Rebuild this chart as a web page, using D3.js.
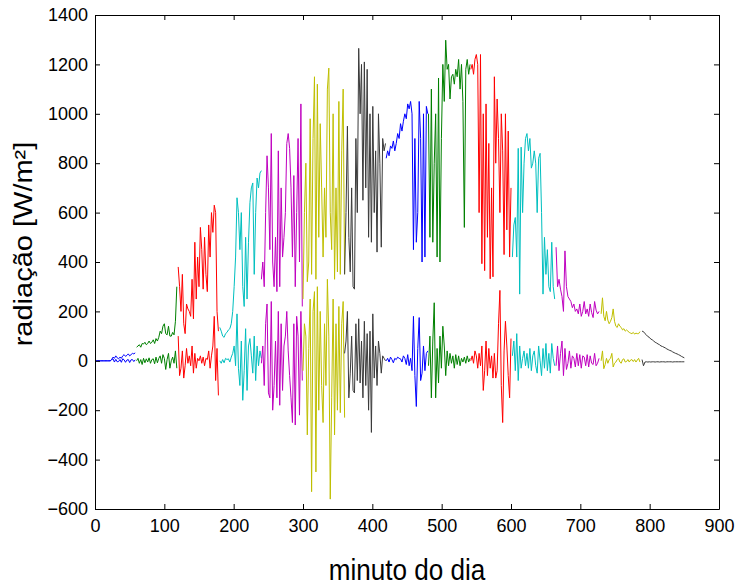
<!DOCTYPE html>
<meta charset="utf-8">
<head>
    <title>radiacao</title>
    <script src="https://d3js.org/d3.v7.min.js"></script>
</head>
<style>
    body { margin: 0; background: #fff; }
    .serie { fill: none; stroke-width: 1px; stroke-linejoin: round; }
    .eixo text { font-family: "Liberation Sans", Arial, sans-serif; font-size: 18px; fill: #000; }
    .rotulo { font-family: "Liberation Sans", Arial, sans-serif; font-size: 29px; fill: #000; }
</style>
<body>
<script>
// minuto inicial / final de cada trecho (30 amostras por trecho)
var inicio = [0, 60, 120, 180, 240, 300, 360, 420, 481, 542, 602, 665, 730, 789];
var fim    = [58, 118, 178, 240, 299, 360, 419, 480, 541, 600, 663, 727, 786, 850];
var cores = ["#0000ff", "#008000", "#ff0000", "#00bfbf", "#bf00bf", "#bfbf00", "#3a3a3a"];

// radiacao medida em cada trecho [W/m2]
var radiacao = [
    [0,0,0,0,0,0,0,0,0,0,0,0,5,15,10,20,12,8,15,10,20,25,18,22,28,20,25,30,28,32],
    [55,60,65,55,70,68,75,65,70,80,70,75,85,70,90,80,95,120,110,140,150,110,105,140,100,100,115,105,160,300],
    [380,300,200,350,150,110,230,210,200,180,330,170,480,250,420,300,540,450,290,500,350,280,550,420,600,520,630,600,200,120],
    [135,120,100,95,110,115,125,130,150,200,300,420,660,600,450,600,300,220,500,250,480,640,700,720,350,600,740,700,760,770],
    [330,400,300,600,830,700,450,920,400,300,500,280,850,300,700,420,500,600,880,920,860,700,420,750,300,600,900,400,1040,220],
    [250,600,800,320,400,980,350,900,1150,330,1120,500,960,700,420,700,500,1100,1185,600,450,1000,330,700,360,1050,350,850,1100,350],
    [350,600,950,500,360,700,300,290,900,600,1265,1000,1200,650,1210,700,1180,500,1000,480,1030,600,850,440,1000,800,460,900,850,880],
    [820,850,830,870,860,890,850,880,920,900,960,930,970,1000,980,1040,1020,1050,1000,450,900,480,600,1050,900,400,1000,420,1030,1000],
    [1000,500,1100,480,800,1000,420,1145,400,900,1200,1050,1298,1180,1200,1060,1150,1160,1120,1180,1150,1220,1100,1200,1050,540,1180,1220,1160,1200],
    [1180,1200,1160,1220,1240,1200,600,1240,393,1000,365,1040,500,880,332,700,340,1150,800,1060,900,600,1000,850,430,1000,530,930,420,700],
    [420,550,580,420,860,270,865,600,800,900,920,850,900,780,800,850,800,600,820,840,600,270,500,350,450,300,280,480,300,250],
    [460,300,330,290,260,200,445,300,260,250,240,215,230,200,210,190,230,180,200,240,190,210,180,230,195,175,240,205,190,200],
    [190,255,180,162,200,165,150,160,175,210,160,140,135,150,140,135,125,130,120,125,120,115,112,110,115,108,112,110,110,118],
    [120,118,110,105,98,95,88,85,80,75,72,68,65,60,58,55,52,48,45,42,40,36,33,30,28,25,22,18,15,12]
];

// variacao da radiacao em cada trecho [W/m2]
var variacao = [
    [0,0,0,0,0,0,0,0,0,0,0,0,5,8,-5,6,-4,-3,5,-6,8,4,-6,3,5,-7,4,5,-3,4],
    [0,10,-10,5,-15,10,-8,8,-5,12,-10,5,8,-12,15,-8,10,20,-10,25,10,-35,5,30,-30,0,15,-10,40,-30],
    [100,-60,-30,40,-70,-20,50,-10,20,-20,60,-50,30,-30,10,0,20,-10,15,-20,10,5,40,-30,20,60,180,-80,50,-140],
    [0,-10,5,-8,10,5,8,-5,15,30,60,-20,190,-30,-100,80,-160,-40,130,-120,60,90,20,-50,100,-80,60,-20,40,10],
    [-10,60,-100,150,230,-130,-150,240,-200,-100,80,-150,200,-180,150,-120,60,100,200,40,-60,-150,-250,150,-260,180,100,-220,200,-80],
    [-40,150,100,-300,50,250,-530,200,280,-450,300,-200,200,-100,-250,150,-100,330,100,-560,-150,250,-300,150,-200,220,-210,150,240,-230],
    [30,80,200,-150,-50,100,-120,-130,150,-80,170,-90,80,-150,160,-100,110,-200,120,-290,190,-70,60,-100,80,30,-50,20,10,0],
    [0,10,-5,15,5,-8,10,5,15,10,8,-5,20,10,-15,25,-20,10,-40,180,-60,-185,50,175,-80,-50,60,-40,30,40],
    [-20,100,-150,80,235,-150,50,-90,100,-30,140,60,-60,40,-20,30,-10,20,-30,25,-15,20,-20,10,-5,15,-10,20,-5,10],
    [0,20,-10,40,20,-30,30,-20,60,-120,-40,80,-60,50,-30,20,-70,30,-70,-40,150,285,-100,-250,40,160,60,-60,-150,90],
    [20,80,-40,110,-80,60,-30,10,40,-20,30,-30,50,-40,20,40,-20,-50,60,0,-60,50,-30,70,-40,30,-50,70,10,-20],
    [-20,60,-40,30,80,-60,50,-35,-10,40,-30,20,10,-25,30,-20,25,-30,20,15,-20,25,-25,20,-10,-15,30,-20,-10,10],
    [0,40,-32,-15,10,-10,5,10,30,-25,-10,-5,5,10,-5,-10,5,8,-5,-3,5,-5,3,5,-3,5,-5,3,10,-5],
    [5,-20,-5,-4,-5,-4,-5,-4,-4,-5,-4,-4,-5,-4,-4,-4,-5,-4,-4,-4,-4,-5,-4,-4,-4,-4,-4,-4,-4,-4]
];

var xTicks = d3.range(0, 901, 100);
var yTicks = d3.range(-600, 1401, 200);

var width = 743, height = 586;
var margin = { left: 95, right: 24, top: 15, bottom: 77 };

var svg = d3.select("body").append("svg")
    .attr("width", width)
    .attr("height", height);

var x = d3.scaleLinear().domain([0, 900]).range([margin.left, width - margin.right]);
var y = d3.scaleLinear().domain([-600, 1400]).range([height - margin.bottom, margin.top]);

// linhas, um trecho por cor
function desenha(serie) {
    serie.forEach(function (vals, k) {
        var passo = (fim[k] - inicio[k]) / (vals.length - 1);
        var linha = d3.line()
            .x(function (d, i) { return x(inicio[k] + i * passo); })
            .y(function (d) { return y(d); });
        svg.append("path")
            .attr("class", "serie")
            .attr("stroke", cores[k % cores.length])
            .attr("d", linha(vals));
    });
}
desenha(radiacao);
desenha(variacao);

// eixos estilo matlab: caixa e ticks para dentro
var tk = 5;
var fmt = d3.format("d");
svg.append("g").attr("class", "eixo")
    .attr("transform", "translate(0," + y(-600) + ")")
    .call(d3.axisBottom(x).tickValues(xTicks).tickFormat(fmt).tickSizeInner(-tk).tickSizeOuter(0).tickPadding(10));
svg.append("g").attr("class", "eixo")
    .attr("transform", "translate(0," + y(1400) + ")")
    .call(d3.axisTop(x).tickValues(xTicks).tickSizeInner(-tk).tickSizeOuter(0).tickFormat(""));
svg.append("g").attr("class", "eixo")
    .attr("transform", "translate(" + x(0) + ",0)")
    .call(d3.axisLeft(y).tickValues(yTicks).tickFormat(fmt).tickSizeInner(-tk).tickSizeOuter(0).tickPadding(7));
svg.append("g").attr("class", "eixo")
    .attr("transform", "translate(" + x(900) + ",0)")
    .call(d3.axisRight(y).tickValues(yTicks).tickSizeInner(-tk).tickSizeOuter(0).tickFormat(""));

svg.selectAll(".eixo path, .eixo line").attr("stroke", "#000");

svg.append("text").attr("class", "rotulo")
    .attr("text-anchor", "middle")
    .attr("transform", "translate(" + ((x(0) + x(900)) / 2) + ",580) scale(0.9,1)")
    .text("minuto do dia");

svg.append("text").attr("class", "rotulo")
    .attr("text-anchor", "middle")
    .attr("transform", "translate(32,244) rotate(-90) scale(1,0.9)")
    .text("radiação [W/m²]");
</script>
</body>
</html>
